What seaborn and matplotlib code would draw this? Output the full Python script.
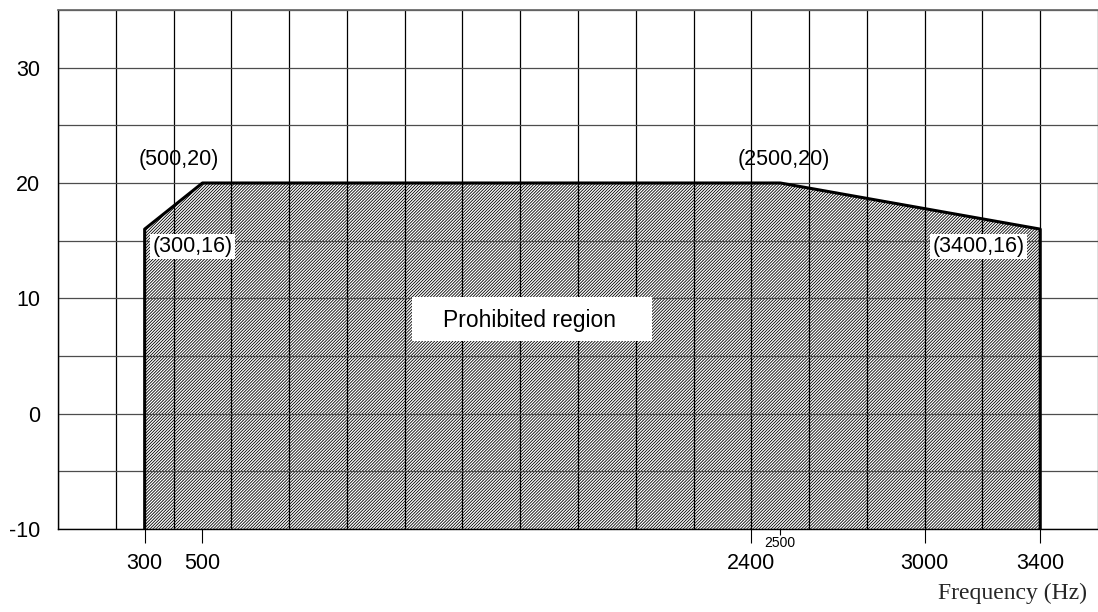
import numpy as np
import pandas as pd
import matplotlib.pyplot as plt
import seaborn as sns
from matplotlib.patches import Rectangle

# Mask corner points (Hz, dB)
freq_hz = [300, 500, 2500, 3400]
limit_db = [16, 20, 20, 16]
floor_db = -10

# Axis ticks
xtick_major = [300, 500, 2400, 3000, 3400]
xtick_minor = [2500]
ytick = [-10, 0, 10, 20, 30]

# Corner annotations
corner_text = ["(500,20)", "(300,16)", "(2500,20)", "(3400,16)"]
corner_x = [418, 466, 2512, 3186]
corner_y = [22.0, 14.5, 22.0, 14.5]
corner_boxed = [False, True, False, True]

sns.set_theme(style="white")
plt.rcParams['font.family'] = ['Liberation Sans', 'DejaVu Sans']
plt.rcParams['hatch.linewidth'] = 0.6
plt.rcParams['axes.unicode_minus'] = False

fig = plt.figure(figsize=(10.98, 6.12), dpi=100)
ax = fig.add_axes([58 / 1098, 83 / 612, 1040 / 1098, 519 / 612])

df = pd.DataFrame({"freq": freq_hz, "level": limit_db})

# hatched prohibited area
ax.fill_between(df["freq"], df["level"], floor_db, facecolor="white",
                edgecolor="black", hatch="/" * 11, linewidth=0, zorder=1)

# thick outline of the mask
outline = pd.DataFrame({
    "freq": [freq_hz[0]] + freq_hz + [freq_hz[-1]],
    "level": [floor_db] + limit_db + [floor_db],
})
sns.lineplot(data=outline, x="freq", y="level", sort=False, estimator=None,
             color="black", linewidth=2.2, ax=ax, zorder=4)

# grid
for gx in np.arange(0, 3601, 200):
    ax.axvline(gx, color="black", lw=0.9, zorder=2)
for gy in np.arange(-10, 36, 5):
    ax.axhline(gy, color="0.3", lw=0.9, zorder=2)

ax.set_xlim(0, 3600)
ax.set_ylim(-10, 35)

for side in ["left", "bottom"]:
    ax.spines[side].set_color("black")
    ax.spines[side].set_linewidth(1.0)
ax.spines["top"].set_color("0.4")
ax.spines["right"].set_visible(False)

ax.set_xticks(xtick_major)
ax.set_xticklabels([str(v) for v in xtick_major])
ax.set_xticks(xtick_minor, minor=True)
ax.set_xticklabels([str(v) for v in xtick_minor], minor=True)
ax.tick_params(axis="x", which="major", bottom=True, length=10, width=0.8,
               direction="out", pad=7, labelsize=15.5, colors="black")
ax.tick_params(axis="x", which="minor", bottom=True, length=4.5, width=0.8,
               direction="out", pad=0.5, labelsize=10, colors="black")
ax.set_yticks(ytick)
ax.tick_params(axis="y", length=0, pad=13, labelsize=15.5, colors="black")
ax.set_xlabel("")
ax.set_ylabel("")

# centre label
ax.add_patch(Rectangle((1227, 6.3), 829, 3.8, facecolor="white",
                       edgecolor="none", zorder=5))
ax.text(1631, 8.1, "Prohibited region", ha="center", va="center",
        fontsize=16.5, color="black", zorder=6)

for txt, cx, cy, boxed in zip(corner_text, corner_x, corner_y, corner_boxed):
    box = dict(facecolor="white", edgecolor="none", pad=1.5) if boxed else None
    ax.text(cx, cy, txt, ha="center", va="center", fontsize=15.5,
            color="black", bbox=box, zorder=6)

fig.text(1087 / 1098, 13 / 612, "Frequency (Hz)", ha="right", va="baseline",
         fontsize=17, family=["Liberation Serif", "DejaVu Serif"])

fig.savefig("out.png", dpi=100, facecolor="white")
